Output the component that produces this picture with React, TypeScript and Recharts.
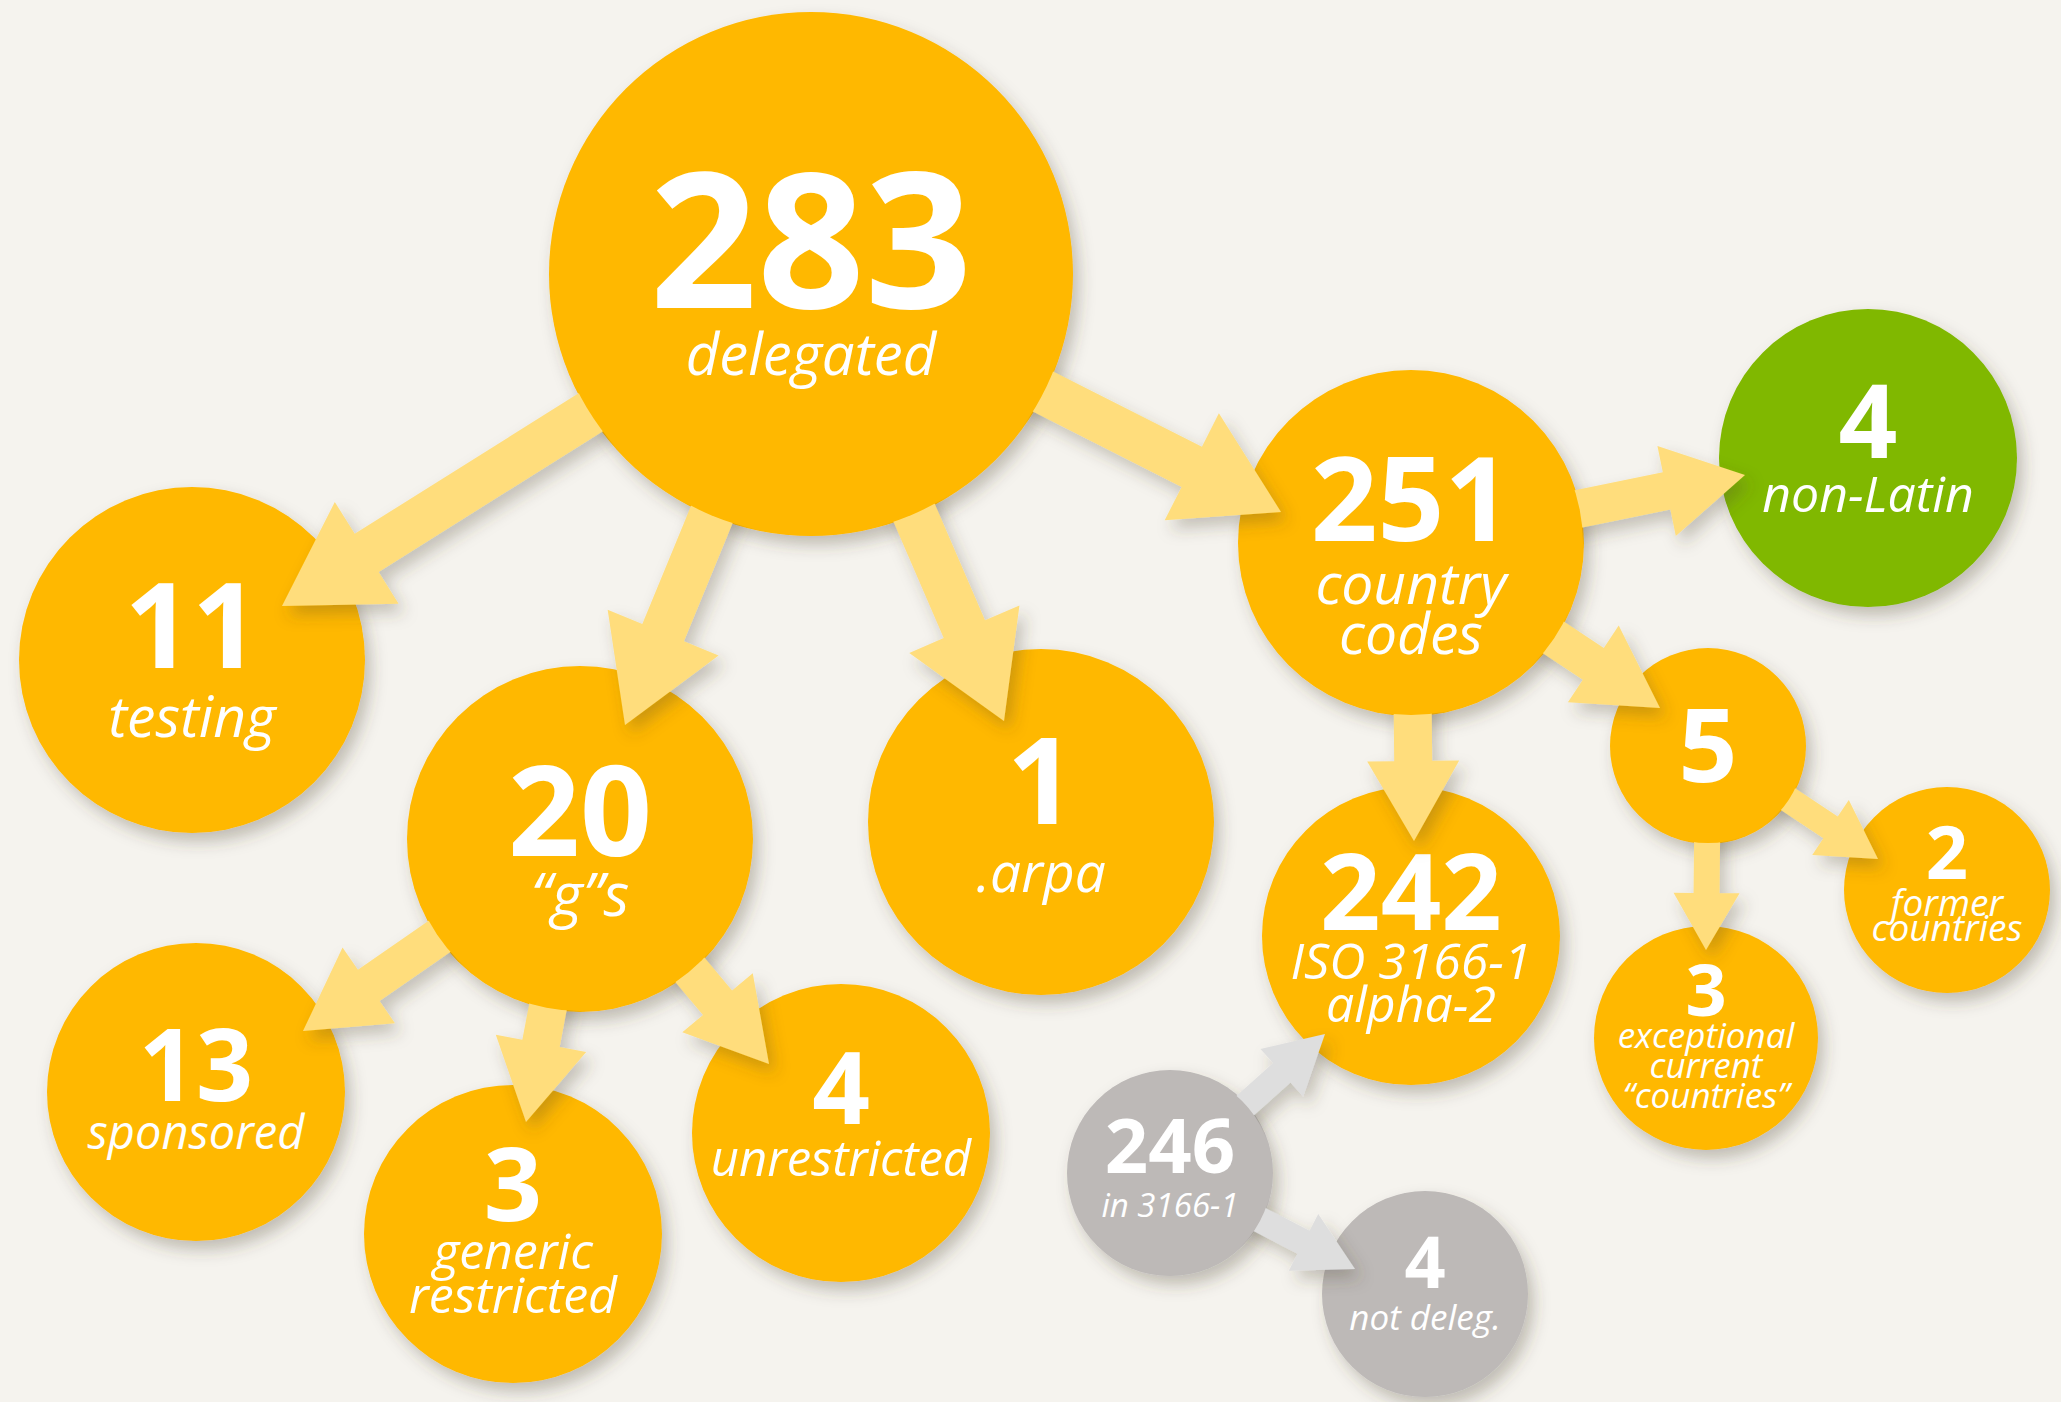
import React from "react";
import { ReferenceLine, Scatter, ScatterChart, XAxis, YAxis } from "recharts";

// TLD breakdown: how the 283 delegated top-level domains split up.
const NODE_IDS = [
  "delegated",
  "testing",
  "gs",
  "arpa",
  "cc",
  "nonLatin",
  "fiveExtra",
  "former",
  "iso",
  "exceptional",
  "sponsored",
  "genericRestricted",
  "unrestricted",
  "in3166",
  "notDeleg",
];
const NODE_VALUES = [283, 11, 20, 1, 251, 4, 5, 2, 242, 3, 13, 3, 4, 246, 4];
const NODE_LABELS = [
  ["delegated"],
  ["testing"],
  ["“g”s"],
  [".arpa"],
  ["country", "codes"],
  ["non-Latin"],
  [],
  ["former", "countries"],
  ["ISO 3166-1", "alpha-2"],
  ["exceptional", "current", "“countries”"],
  ["sponsored"],
  ["generic", "restricted"],
  ["unrestricted"],
  ["in 3166-1"],
  ["not deleg."],
];
const NODE_GROUPS = [
  "tld", "tld", "tld", "tld", "tld", "idn", "tld", "tld",
  "tld", "tld", "tld", "tld", "tld", "iso", "iso",
];

const EDGE_FROM = ["delegated", "delegated", "delegated", "delegated", "gs", "gs", "gs", "cc", "cc", "cc", "fiveExtra", "fiveExtra", "in3166", "in3166"];
const EDGE_TO = ["testing", "gs", "arpa", "cc", "sponsored", "genericRestricted", "unrestricted", "nonLatin", "fiveExtra", "iso", "former", "exceptional", "iso", "notDeleg"];

// ---- layout (canvas units, 1 unit = 1px) ----
const W = 2061;
const H = 1402;

type Place = { x: number; y: number; r: number; num: number; numDy: number; lab: number; labDy: number; gap: number };
const LAYOUT: Record<string, Place> = {
  delegated: { x: 811, y: 274, r: 262, num: 188, numDy: 34, lab: 58, labDy: 101, gap: 0 },
  testing: { x: 192, y: 660, r: 173, num: 118, numDy: 8, lab: 57, labDy: 77, gap: 0 },
  gs: { x: 580, y: 839, r: 173, num: 126, numDy: 17, lab: 60, labDy: 77, gap: 0 },
  arpa: { x: 1041, y: 822, r: 173, num: 120, numDy: 2, lab: 55, labDy: 70, gap: 0 },
  cc: { x: 1411, y: 543, r: 173, num: 117, numDy: -2, lab: 57, labDy: 61, gap: 50 },
  nonLatin: { x: 1868, y: 458, r: 149, num: 103, numDy: 0, lab: 50, labDy: 54, gap: 0 },
  fiveExtra: { x: 1708, y: 746, r: 98, num: 103, numDy: 36, lab: 40, labDy: 0, gap: 0 },
  former: { x: 1947, y: 890, r: 103, num: 74, numDy: -11, lab: 37, labDy: 26, gap: 25 },
  iso: { x: 1411, y: 936, r: 149, num: 106, numDy: -6, lab: 50, labDy: 43, gap: 43 },
  exceptional: { x: 1706, y: 1038, r: 112, num: 72, numDy: -22, lab: 35, labDy: 10, gap: 30 },
  sponsored: { x: 196, y: 1092, r: 149, num: 100, numDy: 9, lab: 47, labDy: 57, gap: 0 },
  genericRestricted: { x: 513, y: 1234, r: 149, num: 102, numDy: -13, lab: 50, labDy: 35, gap: 44 },
  unrestricted: { x: 841, y: 1133, r: 149, num: 101, numDy: -9, lab: 49, labDy: 43, gap: 0 },
  in3166: { x: 1170, y: 1173, r: 103, num: 76, numDy: 0, lab: 33, labDy: 44, gap: 0 },
  notDeleg: { x: 1425, y: 1294, r: 103, num: 72, numDy: -6, lab: 35, labDy: 36, gap: 0 },
};

// where each arrow head lands (canvas units)
const ARROW_TIPS: [number, number][] = [
  [282, 606], [625, 725], [1004, 721], [1281, 512],
  [303, 1031], [526, 1122], [769, 1064],
  [1745, 475], [1660, 708], [1414, 841],
  [1878, 859], [1706, 950],
  [1325, 1034], [1355, 1269],
];

const ARROW_SIZE: Record<string, { shaft: number; headW: number; headL: number }> = {
  delegated: { shaft: 45, headW: 120, headL: 100 },
  gs: { shaft: 38, headW: 92, headL: 80 },
  cc: { shaft: 38, headW: 92, headL: 80 },
  fiveExtra: { shaft: 26, headW: 66, headL: 57 },
  in3166: { shaft: 26, headW: 64, headL: 58 },
};

const COLORS: Record<string, { fill: string; arrow: string }> = {
  tld: { fill: "#FFB800", arrow: "#FFDD7B" },
  idn: { fill: "#80B800", arrow: "#FFDD7B" },
  iso: { fill: "#BDB9B7", arrow: "#DEDEDE" },
};
const BG = "#F5F3EE";
const FONT = "'Open Sans', 'Noto Sans', sans-serif";

const groupOf = (id: string) => NODE_GROUPS[NODE_IDS.indexOf(id)];

const nodeData = NODE_IDS.map((id, i) => ({
  id,
  x: LAYOUT[id].x,
  y: LAYOUT[id].y,
  value: NODE_VALUES[i],
  lines: NODE_LABELS[i],
  group: NODE_GROUPS[i],
}));

function NodeShape(props: any) {
  const { cx, cy, payload } = props;
  const L = LAYOUT[payload.id];
  return (
    <g>
      <circle cx={cx} cy={cy} r={L.r} fill={COLORS[payload.group].fill} filter="url(#nodeShadow)" />
      <text
        x={cx}
        y={cy + L.numDy}
        textAnchor="middle"
        fill="#fff"
        fontFamily={FONT}
        fontWeight={700}
        fontSize={L.num}
      >
        {payload.value}
      </text>
      {payload.lines.map((line: string, k: number) => (
        <text
          key={k}
          x={cx}
          y={cy + L.labDy + k * L.gap}
          textAnchor="middle"
          fill="#fff"
          fontFamily={FONT}
          fontStyle="italic"
          fontSize={L.lab}
        >
          {line}
        </text>
      ))}
    </g>
  );
}

function arrowShape(i: number, parentR: number, size: { shaft: number; headW: number; headL: number }, color: string) {
  return (p: any) => {
    const { x1, y1, x2, y2 } = p;
    const len = Math.hypot(x2 - x1, y2 - y1) || 1;
    const ux = (x2 - x1) / len;
    const uy = (y2 - y1) / len;
    const nx = -uy;
    const ny = ux;
    const bx = x2 - ux * size.headL;
    const by = y2 - uy * size.headL;
    const s = size.shaft / 2;
    const h = size.headW / 2;
    const pts = [
      [x1 + nx * s, y1 + ny * s],
      [bx + nx * s, by + ny * s],
      [bx + nx * h, by + ny * h],
      [x2, y2],
      [bx - nx * h, by - ny * h],
      [bx - nx * s, by - ny * s],
      [x1 - nx * s, y1 - ny * s],
    ]
      .map((q) => q.join(","))
      .join(" ");
    return (
      <g>
        <defs>
          <mask id={`arrowMask${i}`} maskUnits="userSpaceOnUse" x={0} y={0} width={W} height={H}>
            <rect x={0} y={0} width={W} height={H} fill="#fff" />
            <circle cx={x1} cy={y1} r={parentR - 1} fill="#000" />
          </mask>
        </defs>
        <g mask={`url(#arrowMask${i})`}>
          <polygon points={pts} fill={color} filter="url(#arrowShadow)" />
        </g>
      </g>
    );
  };
}

export default function App() {
  return (
    <div style={{ position: "absolute", left: 0, top: 0, width: W, height: H, background: BG }}>
      <svg width={0} height={0} style={{ position: "absolute" }}>
        <defs>
          <filter id="nodeShadow" x="-20%" y="-20%" width="150%" height="150%">
            <feDropShadow dx={6} dy={9} stdDeviation={8} floodColor="#4a3f30" floodOpacity={0.3} />
          </filter>
          <filter id="arrowShadow" x="-30%" y="-30%" width="160%" height="160%">
            <feDropShadow dx={6} dy={9} stdDeviation={8} floodColor="#4a3f30" floodOpacity={0.28} />
          </filter>
        </defs>
      </svg>
      <ScatterChart width={W} height={H} margin={{ top: 0, right: 0, bottom: 0, left: 0 }}>
        <XAxis type="number" dataKey="x" domain={[0, W]} hide allowDataOverflow />
        <YAxis type="number" dataKey="y" domain={[0, H]} hide reversed allowDataOverflow />
        <Scatter data={nodeData} shape={NodeShape} isAnimationActive={false} />
        {EDGE_FROM.map((from, i) => {
          const to = EDGE_TO[i];
          const src = LAYOUT[from];
          const tip = ARROW_TIPS[i];
          const color = COLORS[groupOf(from) === "iso" ? "iso" : "tld"].arrow;
          return (
            <ReferenceLine
              key={`${from}-${to}`}
              segment={[
                { x: src.x, y: src.y },
                { x: tip[0], y: tip[1] },
              ]}
              zIndex={700}
              shape={arrowShape(i, src.r, ARROW_SIZE[from], color)}
            />
          );
        })}
      </ScatterChart>
    </div>
  );
}
